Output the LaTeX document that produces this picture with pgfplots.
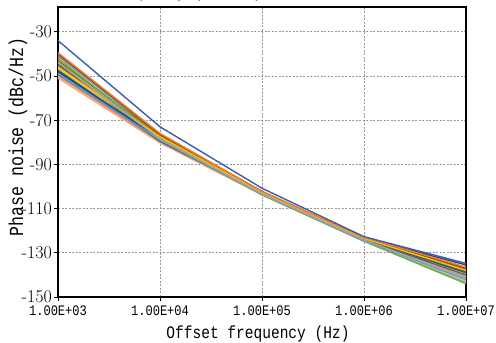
\documentclass[border=0pt]{standalone}
\usepackage{fontspec}
\usepackage{pgfplots}
\pgfplotsset{compat=1.18}
\usepackage{pgfplotstable}
\setmainfont{Liberation Serif}
\newfontfamily\simfont[FakeStretch=0.83]{Liberation Mono}
\newfontfamily\lmfont{Latin Modern Roman}

% Office-style series colours
\definecolor{c0}{HTML}{3A5DAE}
\definecolor{c1}{HTML}{ED7D31}
\definecolor{c2}{HTML}{A5A5A5}
\definecolor{c3}{HTML}{FFC000}
\definecolor{c4}{HTML}{5B9BD5}
\definecolor{c5}{HTML}{70AD47}
\definecolor{c6}{HTML}{264478}
\definecolor{c7}{HTML}{9E480E}
\definecolor{c8}{HTML}{636363}
\definecolor{c9}{HTML}{997300}
\definecolor{c10}{HTML}{255E91}
\definecolor{c11}{HTML}{43682B}
\definecolor{c12}{HTML}{698ED0}
\definecolor{c13}{HTML}{F1975A}
\definecolor{c14}{HTML}{B7B7B7}
\definecolor{c15}{HTML}{FFCD33}
\definecolor{c16}{HTML}{7CAFDD}
\definecolor{c17}{HTML}{8CC168}
\definecolor{c18}{HTML}{335AA1}
\definecolor{c19}{HTML}{D26012}
\definecolor{c20}{HTML}{848484}
\definecolor{c21}{HTML}{CC9A00}
\definecolor{c22}{HTML}{F4B183}
\definecolor{c23}{HTML}{C9C9C9}

% phase noise (dBc/Hz) at offsets 1k,10k,100k,1M,10M; one column per device
\pgfplotstableread{
f     s0     s1     s2     s3     s4     s5     s6     s7     s8     s9     s10    s11    s12    s13    s14    s15    s16    s17    s18    s19    s20    s21    s22    s23
1e3  -34.0  -39.5  -44.0  -46.0  -49.0  -42.0  -48.0  -40.0  -45.0  -43.0  -47.5  -44.5  -41.0  -50.0  -45.5  -46.5  -48.5  -43.5  -49.5  -40.5  -47.0  -44.2  -51.0  -50.5
1e4  -73.0  -76.0  -78.5  -77.5  -79.0  -78.0  -78.5  -76.5  -79.0  -77.0  -79.5  -78.2  -76.8  -79.8  -78.8  -77.8  -79.2  -78.0  -79.6  -76.2  -79.0  -77.6  -80.3  -80.0
1e5  -100.8 -102.3 -103.3 -102.8 -103.5 -103.8 -103.0 -102.2 -103.4 -102.6 -103.2 -103.0 -102.5 -103.6 -103.4 -103.0 -103.5 -103.2 -103.4 -102.4 -103.5 -102.9 -103.8 -103.7
1e6  -122.7 -123.0 -124.2 -123.5 -124.5 -124.8 -123.2 -123.2 -124.0 -123.6 -123.8 -123.9 -123.4 -124.3 -124.4 -123.7 -124.1 -124.6 -123.9 -123.3 -124.4 -123.8 -124.7 -124.6
1e7  -134.8 -136.5 -141.5 -138.0 -142.0 -144.0 -135.5 -137.0 -140.0 -137.5 -139.0 -138.5 -137.8 -141.0 -142.5 -139.5 -140.5 -143.5 -138.8 -138.2 -141.8 -139.2 -140.8 -143.0
}\pndata

\begin{document}
\begin{tikzpicture}[x=1bp,y=1bp]
\begin{axis}[
  at={(58bp,46bp)}, anchor=south west,
  scale only axis, width=408bp, height=290bp,
  xmode=log, xmin=1e3, xmax=1e7,
  xtick={1e3,1e4,1e5,1e6,1e7},
  xticklabels={1.00E+03,1.00E+04,1.00E+05,1.00E+06,1.00E+07},
  xminorticks=false,
  ymin=-150, ymax=-18.8,
  ytick={-150,-130,-110,-90,-70,-50,-30},
  yticklabels={-150,-130,-110,-90,-70,-50,-30},
  tick align=outside, xtick pos=bottom, ytick pos=left,
  major tick length=4bp,
  tick style={black, line width=0.8bp},
  axis line style={black, line width=1.2bp},
  grid=major,
  major grid style={gray!80, line width=0.6bp, dash pattern=on 2bp off 1.5bp},
  xticklabel style={font=\simfont\fontsize{14.5bp}{15bp}\selectfont, inner sep=1bp, yshift=-4bp},
  yticklabel style={font=\lmfont\fontsize{18bp}{18bp}\selectfont, inner sep=1bp, xshift=-1bp},
  every axis plot/.append style={no marks, line width=1.4bp},
  clip=true,
]
\pgfplotsinvokeforeach{23,22,...,0}{
  \addplot[color=c#1] table[x=f, y=s#1] {\pndata};
}
\end{axis}
\node[rotate=90, font=\simfont\fontsize{20bp}{21bp}\selectfont] at (18bp,206bp) {Phase noise (dBc/Hz)};
\node[font=\simfont\fontsize{17.5bp}{18bp}\selectfont] at (258bp,9.5bp) {Offset frequency (Hz)};
\node[anchor=base east, font=\simfont\fontsize{17bp}{18bp}\selectfont, inner sep=0pt] at (262bp,345bp) {Phase noise vs. offset frequency (dBc/Hz)};
\pgfresetboundingbox
\useasboundingbox (0,0) rectangle (496bp,343bp);
\end{tikzpicture}
\end{document}
